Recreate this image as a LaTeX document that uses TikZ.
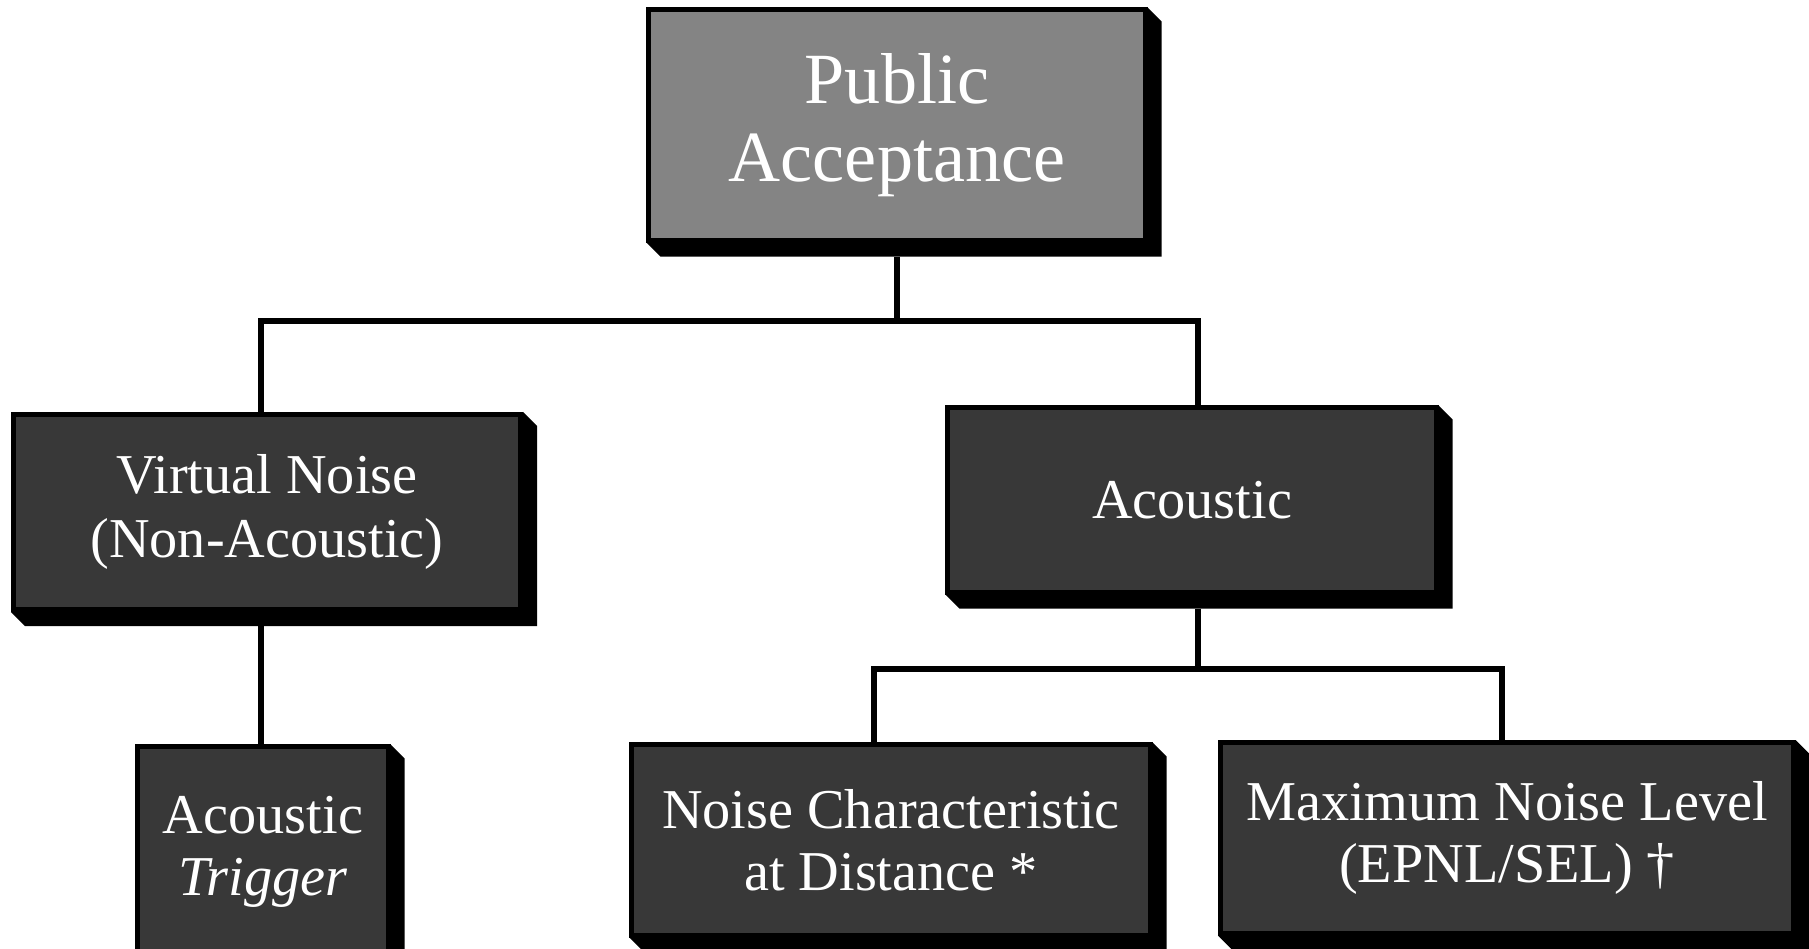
\documentclass[tikz,border=0pt]{standalone}
\usepackage{fontspec}
\setmainfont{Liberation Serif}
\usetikzlibrary{positioning,calc}
\definecolor{toptone}{RGB}{132,132,132}
\definecolor{darktone}{RGB}{56,56,56}
% block face with the black extruded edge below and to the right
\newcommand{\extrude}[1]{\fill[black] (#1.south west) -- ++(0.14cm,-0.14cm) -| ($(#1.north east)+(0.14cm,-0.14cm)$) -- (#1.north east) -- (#1.south east) -- cycle;}

\begin{document}
\begin{tikzpicture}[x=0.01cm,y=-0.01cm,
  card/.style={draw=black,line width=1.4pt,fill=darktone,text=white,align=center,inner sep=2pt,font=\fontsize{16}{17.5}\selectfont},
  link/.style={line width=1.8pt}]
\useasboundingbox[fill=white] (0,0) rectangle (1809,949);
\node[card,fill=toptone,minimum width=4.96cm,minimum height=2.3cm,font=\fontsize{20.5}{22}\selectfont] (pub) at (897,125) {Public\\Acceptance};
\node[card,minimum width=5.07cm,minimum height=1.95cm,font=\fontsize{16}{18}\selectfont] (virt) at (267,512) {Virtual Noise\\(Non-Acoustic)};
\node[card,minimum width=4.88cm,minimum height=1.84cm] (acou) at (1192,500) {Acoustic};
\node[card,minimum width=2.5cm,minimum height=2.1cm] (trig) at (263,852) {Acoustic\\\textit{Trigger}};
\node[card,minimum width=5.18cm,minimum height=1.9cm] (dist) at (891,840) {Noise Characteristic\\at Distance *};
\node[card,minimum width=5.73cm,minimum height=1.9cm] (maxl) at (1507,838) {Maximum Noise Level\\(EPNL/SEL) \textdagger};
\foreach \n in {pub,virt,acou,trig,dist,maxl} {\extrude{\n}}
% tree connectors
\coordinate (bar1) at (0,321);
\coordinate (bar2) at (0,669);
\draw[link] (pub.south) ++(0,-0.14cm) -- (pub.south |- bar1);
\draw[link] ([xshift=-0.06cm]virt.north) |- ([xshift=0.06cm]acou.north |- bar1) -- ([xshift=0.06cm]acou.north);
\draw[link] ([xshift=0.06cm,yshift=-0.14cm]acou.south) -- ([xshift=0.06cm]acou.south |- bar2);
\draw[link] ([xshift=-0.17cm]dist.north) |- ([xshift=-0.05cm]maxl.north |- bar2) -- ([xshift=-0.05cm]maxl.north);
\draw[link] ([xshift=-0.06cm,yshift=-0.14cm]virt.south) -- ([xshift=-0.06cm]virt.south |- trig.north);
\end{tikzpicture}
\end{document}
